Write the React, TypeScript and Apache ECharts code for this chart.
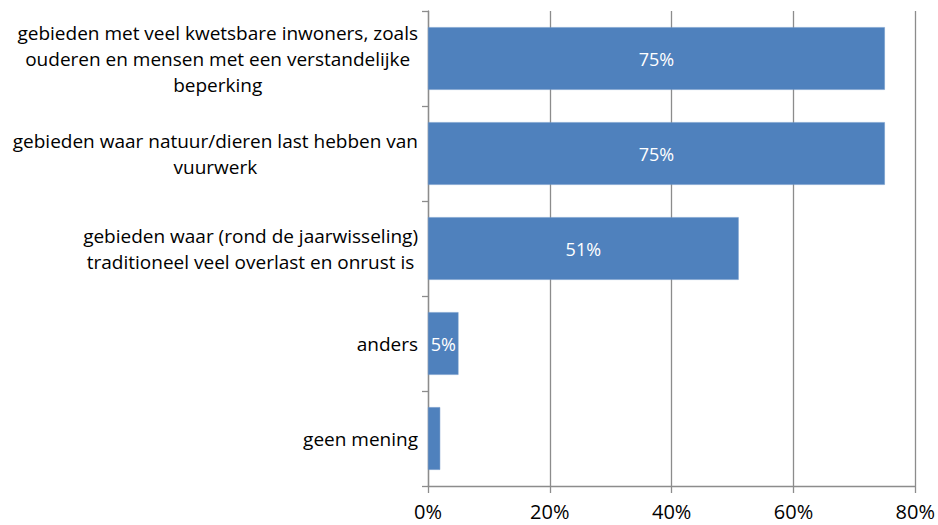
import React, { useEffect, useRef } from "react";
import * as echarts from "echarts";

const categories = [
  "gebieden met veel kwetsbare inwoners, zoals\nouderen en mensen met een verstandelijke\nbeperking",
  "gebieden waar natuur/dieren last hebben van\nvuurwerk",
  "gebieden waar (rond de jaarwisseling)\ntraditioneel veel overlast en onrust is",
  "anders",
  "geen mening",
];
const values = [75, 75, 51, 5, 2];
const showValueLabel = [true, true, true, true, false];
const xTicks = [0, 20, 40, 60, 80];

const FONT = "'Open Sans', 'Noto Sans', sans-serif";

export default function App() {
  const ref = useRef<HTMLDivElement>(null);
  useEffect(() => {
    if (!ref.current) return;
    const chart = echarts.init(ref.current, undefined, { renderer: "svg" });
    chart.setOption({
      animation: false,
      grid: { left: 428, right: 21, top: 11, bottom: 39, containLabel: false },
      xAxis: {
        type: "value",
        min: xTicks[0],
        max: xTicks[xTicks.length - 1],
        interval: 20,
        axisLine: { show: true, lineStyle: { color: "#8c8c8c", width: 1.3 } },
        axisTick: { show: true, length: 7, lineStyle: { color: "#8c8c8c", width: 1.3 } },
        splitLine: { show: true, lineStyle: { color: "#8c8c8c", width: 1.3 } },
        axisLabel: {
          formatter: (v: number) => `${v}%`,
          color: "#000",
          fontFamily: FONT,
          fontSize: 20,
          margin: 15,
        },
      },
      yAxis: {
        type: "category",
        inverse: true,
        data: categories,
        axisLine: { show: true, lineStyle: { color: "#8c8c8c", width: 1.3 } },
        axisTick: { show: true, length: 6, lineStyle: { color: "#8c8c8c", width: 1.3 } },
        splitLine: { show: false },
        axisLabel: {
          margin: 10,
          align: "right",
          formatter: (v: string) =>
            v
              .split("\n")
              .map((l) => `{c|${l}}`)
              .join("\n"),
          rich: {
            c: {
              align: "center",
              color: "#000",
              fontFamily: FONT,
              fontSize: 19,
              lineHeight: 26,
            },
          },
        },
      },
      series: [
        {
          type: "bar",
          barWidth: "66%",
          data: values.map((v, i) => ({
            value: v,
            label: { show: showValueLabel[i] },
          })),
          itemStyle: { color: "#4F81BD", borderColor: "#6f97c9", borderWidth: 0.5 },
          label: {
            show: true,
            position: "inside",
            formatter: (p: any) => `${p.value}%`,
            color: "#fff",
            fontFamily: FONT,
            fontSize: 18,
          },
        },
      ],
    });
    return () => chart.dispose();
  }, []);
  return (
    <div
      ref={ref}
      style={{ position: "fixed", left: 0, top: 0, width: 938, height: 525, background: "#fff" }}
    />
  );
}
